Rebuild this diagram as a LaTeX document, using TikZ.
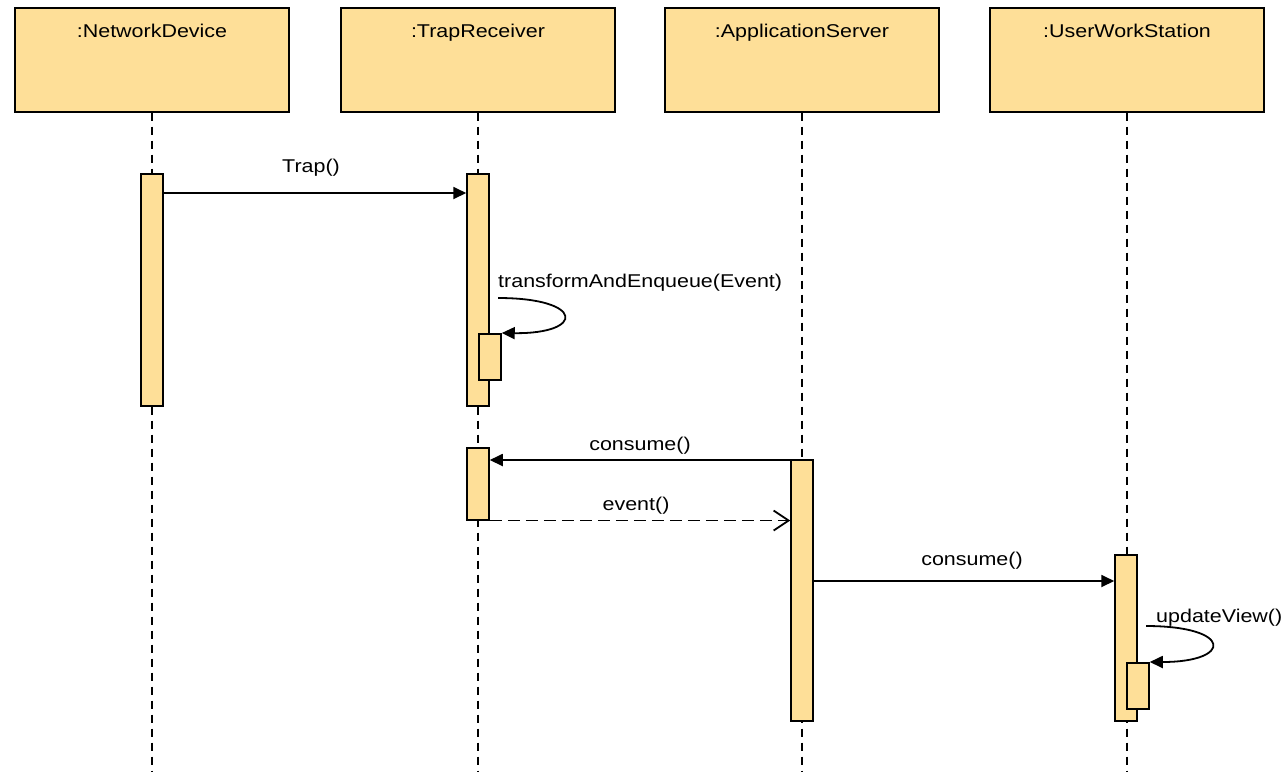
\documentclass[tikz,border=0pt]{standalone}
\usepackage{fontspec}
\setmainfont{Liberation Sans}[FakeStretch=1.16]
\usetikzlibrary{arrows.meta}
\definecolor{objfill}{RGB}{254,223,152}

\begin{document}
\begin{tikzpicture}[x=1pt, y=-1pt,
        font=\fontsize{18.5}{22}\selectfont,
        obj/.style={draw, fill=objfill, line width=1.5pt, anchor=north, inner sep=0pt,
            minimum width=274pt, text height=30pt, text depth=74pt},
        bar/.style={draw, fill=objfill, line width=1.5pt, anchor=north, inner sep=0pt, minimum width=22pt},
        life/.style={line width=1.5pt, dash pattern=on 8pt off 6pt},
        call/.style={-{Triangle[length=13pt,width=12pt]}, line width=1.8pt},
        reply/.style={-{Straight Barb[length=15pt,width=20pt]}, line width=1.8pt, dash pattern=on 12pt off 6pt},
        lbl/.style={anchor=base, inner sep=0pt}
    ]
        \useasboundingbox (0,0) rectangle (1281,772);

        % objects
        \node[obj] (nd) at (152,7) {:NetworkDevice};
        \node[obj] (tr) at (478,7) {:TrapReceiver};
        \node[obj] (as) at (802,7) {:ApplicationServer};
        \node[obj] (uw) at (1127,7) {:UserWorkStation};

        % lifelines
        \coordinate (ndend) at (152,772);
        \coordinate (trend) at (478,772);
        \coordinate (asend) at (802,772);
        \coordinate (uwend) at (1127,772);
        \draw[life] (nd.south) -- (ndend);
        \draw[life] (tr.south) -- (trend);
        \draw[life] (as.south) -- (asend);
        \draw[life] (uw.south) -- (uwend);

        % activations
        \node[bar, minimum height=232pt] (ndbar) at (152,173) {};
        \node[bar, minimum height=232pt] (trbar) at (478,173) {};
        \node[bar, minimum height=46pt] (trnest) at (490,333) {};
        \node[bar, minimum height=72pt] (trbar2) at (478,447) {};
        \node[bar, minimum height=261pt] (asbar) at (802,459) {};
        \node[bar, minimum height=166pt] (uwbar) at (1126,554) {};
        \node[bar, minimum height=46pt] (uwnest) at (1138,662) {};

        % messages
        \draw[call] ([yshift=-20pt]ndbar.north east) -- ([yshift=-20pt]trbar.north west);
        \node[lbl] (traplbl) at (311,172) {Trap()};

        \coordinate (tfstart) at (498,298);
        \draw[call] (tfstart) .. controls (585,298) and (585,334) .. (trnest.north east);
        \node[lbl, anchor=base west] (tflbl) at (498,287) {transformAndEnqueue(Event)};

        \draw[call] ([yshift=-1pt]asbar.north west) -- ([yshift=-13pt]trbar2.north east);
        \node[lbl] (consumelbl) at (640,450) {consume()};

        \draw[reply] (trbar2.south east) -- (trbar2.south east -| asbar.west);
        \node[lbl] (eventlbl) at (636,510) {event()};

        \draw[call] ([yshift=-27pt]uwbar.north west -| asbar.east) -- ([yshift=-27pt]uwbar.north west);
        \node[lbl] (consumelbl2) at (972,565) {consume()};

        \coordinate (uvstart) at (1146,626);
        \draw[call] (uvstart) .. controls (1233,626) and (1233,662) .. (uwnest.north east);
        \node[lbl, anchor=base west] (uvlbl) at (1156,622) {updateView()};
    \end{tikzpicture}
\end{document}
